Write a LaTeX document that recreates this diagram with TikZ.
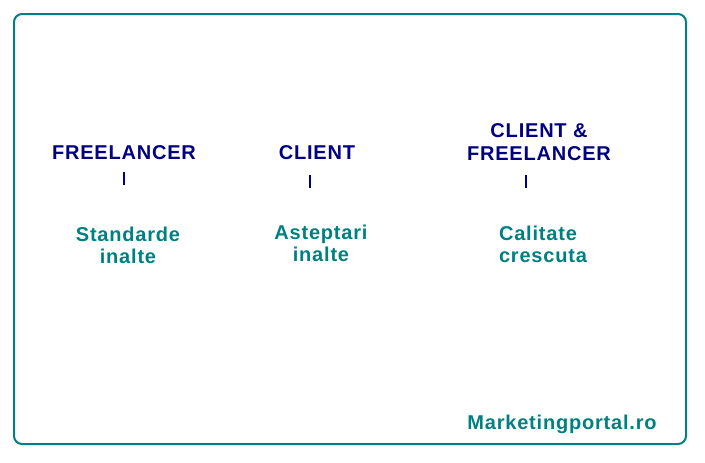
\documentclass[tikz,border=0pt]{standalone}
\usepackage{fontspec}
\setmainfont{Liberation Sans}[LetterSpace=4]
\definecolor{headblue}{RGB}{0,0,128}
\definecolor{tealtext}{RGB}{0,128,128}
\tikzset{
  head/.style={text=headblue,font=\bfseries\fontsize{20}{23}\selectfont,anchor=base,inner sep=0pt},
  note/.style={text=tealtext,font=\bfseries\fontsize{20}{22}\selectfont,anchor=base,inner sep=0pt},
  bar/.style={headblue,line width=2.6pt}
}
\begin{document}
\begin{tikzpicture}[x=1pt,y=-1pt]
\useasboundingbox (0,0) rectangle (705,463);
\draw[tealtext,line width=2pt,rounded corners=8pt] (14,14) rectangle (686,444);
% headings (base = last line)
\node[head] (freelancer) at (124,159) {FREELANCER};
\node[head] (client) at (317,159) {CLIENT};
\node[head,align=center] (both) at (539,160) {CLIENT \&\\FREELANCER};
% bars
\foreach \x/\t in {124/172,310/175,526/175}
\draw[bar] (\x,\t) -- (\x,\t+13);
% notes
\node[note,align=center] (standarde) at (128,263) {Standarde\\inalte};
\node[note,align=center] (asteptari) at (321,261) {Asteptari\\inalte};
\node[note,align=left] (calitate) at (543,262) {Calitate\\crescuta};
\node[note] (site) at (562,429) {Marketingportal.ro};
\end{tikzpicture}
\end{document}
